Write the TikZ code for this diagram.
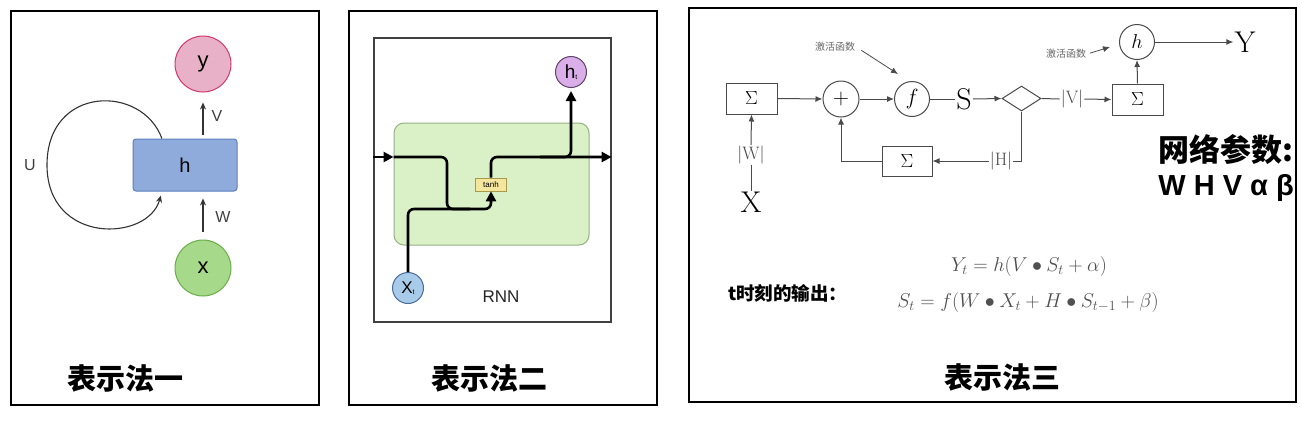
\RequirePackage{fix-cm}
\documentclass[tikz,border=0pt]{standalone}
\usepackage{fontspec}
\usetikzlibrary{arrows.meta,shapes.geometric,calc}
\newfontfamily\cjk{Noto Sans CJK SC}
\newfontfamily\lsans{Liberation Sans}
\newcommand\fsz[1]{\fontsize{#1}{#1}\selectfont}
\definecolor{ypink}{HTML}{E8B1C8}
\definecolor{yred}{HTML}{D2386A}
\definecolor{hblue}{HTML}{8EABDB}
\definecolor{hblueb}{HTML}{5C7FBC}
\definecolor{xgreen}{HTML}{A7D98A}
\definecolor{xgreenb}{HTML}{6AAD4A}
\definecolor{cellgreen}{HTML}{DAF1C7}
\definecolor{cellgreenb}{HTML}{94B084}
\definecolor{tanhy}{HTML}{F4E69C}
\definecolor{tanhb}{HTML}{A89A48}
\definecolor{htpurple}{HTML}{D9AEE9}
\definecolor{htb}{HTML}{5E4468}
\definecolor{xtblue}{HTML}{A9CBEA}
\definecolor{xtb}{HTML}{4B6B98}
\definecolor{dgray}{HTML}{4A4A4A}
\definecolor{eqgray}{HTML}{505050}
\begin{document}
\begin{tikzpicture}[x=1pt,y=-1pt,
  frame/.style={draw=black,line width=2pt},
  p1arrow/.style={draw=black!80,line width=1.1pt,-{Stealth[length=7pt,width=6pt]}},
  p1lab/.style={font=\lsans\fsz{16},text=black!75},
  title/.style={font=\cjk\bfseries\fsz{29}},
  thk/.style={line width=2.6pt,draw=black,rounded corners=6pt},
  thktip/.style={-{Triangle[length=10pt,width=10pt]}},
  blk/.style={draw=dgray,line width=1pt,minimum width=51,minimum height=31,inner sep=0,font=\fsz{19}},
  circ/.style={circle,draw=dgray,line width=1pt,minimum size=35,inner sep=0},
  ln/.style={draw=dgray,line width=1pt},
  arr/.style={ln,-{Latex[length=7pt,width=6pt]}},
  lbl/.style={font=\fsz{18},text=dgray,inner sep=1pt},
  act/.style={font=\cjk\fsz{10},text=black!60,inner sep=1pt},
  eq/.style={font=\fsz{20},text=eqgray}]
\useasboundingbox (0,0) rectangle (1302,424);
\fill[white] (0,0) rectangle (1302,424);

% ---------- panel 1 ----------
\draw[frame] (11,11) rectangle (319,405);
\node[circle,minimum size=56,inner sep=0,fill=ypink,draw=yred,line width=1pt,font=\lsans\fsz{22}] (y) at (203,64) {y};
\node[rounded corners=3pt,minimum width=104,minimum height=52,fill=hblue,draw=hblueb,line width=1pt,font=\lsans\fsz{20}] (h) at (185,165) {h};
\node[circle,minimum size=56,inner sep=0,fill=xgreen,draw=xgreenb,line width=1pt,font=\lsans\fsz{22}] (x) at (203,268) {x};
\draw[p1arrow,shorten <=4pt,shorten >=10pt] (h.north -| y.south) -- (y.south);
\draw[p1arrow,shorten <=8pt,shorten >=7pt] (x.north) -- (x.north |- h.south);
\node[p1lab] (lv) at (217,116) {V};
\node[p1lab] (lw) at (223,217) {W};
\node[p1lab] (lu) at (30,165) {U};
\coordinate (us) at ($(h.north west)!0.28!(h.north east)$);
\coordinate (ue) at ($(h.south west)!0.27!(h.south east)+(0,4)$);
\draw[p1arrow] (us) .. controls (142,84) and (47,85) .. (47,165) .. controls (47,245) and (148,242) .. (ue);
\node[title] (t1) at (125.5,378) {表示法一};

% ---------- panel 2 ----------
\draw[frame] (349,11) rectangle (657,405);
\node[draw=black!75,line width=1.2pt,minimum width=237,minimum height=284,inner sep=0] (inner) at (492.5,180) {};
\node[fill=cellgreen,draw=cellgreenb,line width=1pt,rounded corners=10pt,minimum width=195,minimum height=122,inner sep=0] (cell) at (491.5,184) {};
\node[fill=tanhy,draw=tanhb,line width=0.6pt,minimum width=31,minimum height=13,inner sep=0,font=\lsans\fsz{8}] (tanh) at (491,184.5) {tanh};
\node[circle,minimum size=31,inner sep=0,fill=htpurple,draw=htb,line width=1pt] (ht) at (571,72) {\lsans\fsz{19}h\raisebox{-1pt}{\fsz{7}t}};
\node[circle,minimum size=31,inner sep=0,fill=xtblue,draw=xtb,line width=1pt] (xt) at (408,288) {\lsans\fsz{17}X\raisebox{-1pt}{\fsz{7}t}};
\node[font=\lsans\fsz{17},text=black!85] (rnn) at (501,297) {RNN};
\coordinate (r1) at (0,157);
\coordinate (r2) at (0,209);
\coordinate (j1) at (447,157);
\coordinate (j2) at (470,209);
\coordinate (br) at (540,157);
\draw[thk,thktip] (inner.west |- r1) -- (cell.west |- r1);
\draw[thk,thktip] (cell.west |- r1) -- (j1) -- (j1 |- r2) -- (tanh.south |- r2) -- (tanh.south);
\draw[thk] (xt.north) |- (j2);
\draw[thk,thktip] (tanh.north) |- (inner.east |- r1);
\draw[thk,thktip,shorten >=3pt] (br) -| (ht.south);
\node[title] (t2) at (489,378) {表示法二};

% ---------- panel 3 ----------
\draw[frame] (689,8) rectangle (1296,402);
\node[blk] (s1) at (751.5,98.5) {$\Sigma$};
\node[circ,minimum size=36] (plus) at (841,99) {\fsz{22}$+$};
\node[circ] (f) at (912,99) {\fsz{22}$f$};
\node[font=\fsz{30},inner sep=1pt] (S) at (964,99) {S};
\node[diamond,draw=dgray,line width=1pt,minimum width=39,minimum height=25,inner sep=0] (dia) at (1021.5,98.5) {};
\node[lbl] (vl) at (1072,99) {$|\mathrm{V}|$};
\node[blk] (s3) at (1137.5,99.5) {$\Sigma$};
\node[circ] (hc) at (1137,42) {\fsz{20}$h$};
\node[font=\fsz{30},inner sep=1pt] (Y) at (1245,42) {Y};
\node[blk,minimum width=50,minimum height=30] (s2) at (907,161) {$\Sigma$};
\node[lbl] (hl) at (1001,161) {$|\mathrm{H}|$};
\node[lbl] (wl) at (751,155) {$|\mathrm{W}|$};
\node[font=\fsz{30},inner sep=1pt] (X) at (751,202) {X};
\node[act] (a1) at (835,47) {激活函数};
\node[act] (a2) at (1066,54) {激活函数};
\coordinate (a1t) at (898,74);
\coordinate (a2t) at (1110,47);
\draw[arr] (s1.east) -- (plus.west);
\draw[arr] (plus.east) -- (f.west);
\draw[ln] (f.east) -- (S.west);
\draw[arr] (S.east) -- (dia.west);
\draw[ln] (dia.east) -- (vl.west);
\draw[arr] (vl.east) -- (s3.west);
\draw[arr] (s3.north) -- (hc.south);
\draw[arr] (hc.east) -- (Y.west);
\draw[ln] (dia.south) |- (hl.east);
\draw[arr] (hl.west) -- (s2.east);
\draw[arr] (s2.west) -| (plus.south);
\draw[ln] (X.north) -- (wl.south);
\draw[arr] (wl.north) -- (s1.south);
\draw[arr,line width=0.8pt,shorten <=6pt] (a1.east) -- (a1t);
\draw[arr,line width=0.8pt,shorten <=3pt] (a2.east) -- (a2t);
\node[font=\cjk\bfseries\fsz{31},anchor=east,inner sep=0] (np) at (1294,150) {网络参数:};
\node[font=\lsans\bfseries\fsz{29},anchor=east,inner sep=0] (params) at (1294,188) {W H V α β};
\node[font=\cjk\bfseries\fsz{18.5},anchor=west,inner sep=0] (tout) at (728,293) {t时刻的输出：};
\node[eq] (e1) at (1029,266) {$Y_t = h(V \bullet S_t + \alpha)$};
\node[eq] (e2) at (1028,302) {$S_t = f(W \bullet X_t + H \bullet S_{t-1} + \beta)$};
\node[title] (t3) at (1002,377) {表示法三};
\end{tikzpicture}
\end{document}
